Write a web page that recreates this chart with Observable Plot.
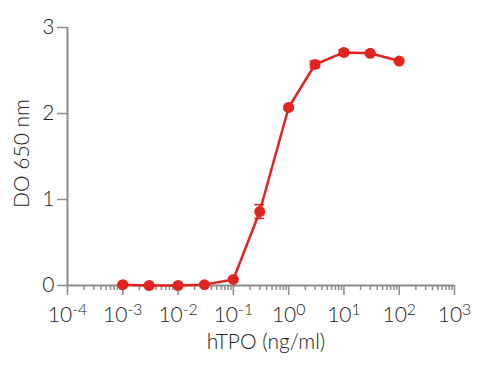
<!DOCTYPE html>
<html><head><meta charset="utf-8">
<script src="https://cdn.jsdelivr.net/npm/d3@7"></script>
<script src="https://cdn.jsdelivr.net/npm/@observablehq/plot@0.6"></script>
<style>body{margin:0;background:#fff} svg{display:block}</style>
</head><body><div id="chart"></div>
<script>
// ---- data ----
const conc = [0.001, 0.003, 0.01, 0.03, 0.1, 0.3, 1, 3, 10, 30, 100];
const od   = [0.01, 0.00, 0.00, 0.01, 0.07, 0.86, 2.07, 2.57, 2.71, 2.70, 2.61];
const err  = [0.01, 0.01, 0.01, 0.01, 0.02, 0.08, 0.02, 0.04, 0.03, 0.02, 0.01];
const yTicks = [0, 1, 2, 3];
const xExponents = [-4, -3, -2, -1, 0, 1, 2, 3];
const xLabel = "hTPO (ng/ml)";
const yLabel = "DO 650 nm";

const red = "#e3231f";
const axisColor = "#8c8c8c";
const textColor = "#222";
const font = "Lato, 'Open Sans', sans-serif";
const fs = 21;

const majorTicks = xExponents.map(e => Math.pow(10, e));
const minorTicks = [];
for (const e of xExponents.slice(0, -1)) for (let m = 2; m <= 9; m++) minorTicks.push(m * Math.pow(10, e));

const data = conc.map((c, i) => ({c, v: od[i], lo: od[i] - err[i], hi: od[i] + err[i]}));

const chart = Plot.plot({
  width: 500, height: 369,
  marginTop: 27, marginRight: 46, marginBottom: 84, marginLeft: 67,
  x: {type: "log", domain: [1e-4, 1e3], axis: null},
  y: {domain: [0, 3], axis: null},
  style: {fontFamily: font, fontSize: fs + "px", color: textColor, background: "#fff", fontWeight: 300},
  marks: [
    Plot.axisX({ticks: minorTicks, tickSize: 5, tickFormat: () => "", stroke: axisColor, strokeOpacity: 1, strokeWidth: 1.5, label: null}),
    Plot.axisX({ticks: majorTicks, tickSize: 10, tickPadding: 12, stroke: axisColor, strokeOpacity: 1, strokeWidth: 1.5,
      fill: textColor, fontSize: fs, label: null,
      tickFormat: d => "10^" + Math.round(Math.log10(d))}),
    Plot.axisY({ticks: yTicks, tickSize: 10, tickPadding: 3, stroke: axisColor, strokeOpacity: 1, strokeWidth: 1.5,
      fill: textColor, fontSize: fs, label: null, tickFormat: d => String(d)}),
    Plot.ruleY([0], {stroke: axisColor, strokeWidth: 2}),
    Plot.ruleX([1e-4], {stroke: axisColor, strokeWidth: 2}),
    Plot.ruleX(data, {x: "c", y1: "lo", y2: "hi", stroke: red, strokeWidth: 1.5}),
    Plot.ruleY(data, {y: "hi", x1: "c", x2: "c", insetLeft: -5, insetRight: -5, stroke: red, strokeWidth: 1.5}),
    Plot.ruleY(data, {y: "lo", x1: "c", x2: "c", insetLeft: -5, insetRight: -5, stroke: red, strokeWidth: 1.5}),
    Plot.line(data, {x: "c", y: "v", stroke: red, strokeWidth: 2.5}),
    Plot.dot(data, {x: "c", y: "v", r: 5.5, fill: red}),
    Plot.text([xLabel], {frameAnchor: "bottom", lineAnchor: "middle", textAnchor: "middle", dy: 57, dx: 5, fontSize: fs, fill: textColor}),
    Plot.text([yLabel], {frameAnchor: "left", lineAnchor: "middle", textAnchor: "middle", dx: -45, dy: -3, rotate: -90, fontSize: fs, fill: textColor})
  ]
});

// superscript exponents on x tick labels
d3.select(chart).selectAll("g[aria-label='x-axis tick label'] text").each(function() {
  const s = this.textContent;
  if (!s.includes("^")) return;
  const [base, exp] = s.split("^");
  const t = d3.select(this);
  t.text(base);
  t.append("tspan").attr("dy", "-0.45em").attr("font-size", "0.75em").text(exp);
});

document.getElementById("chart").appendChild(chart);
</script>
</body></html>
